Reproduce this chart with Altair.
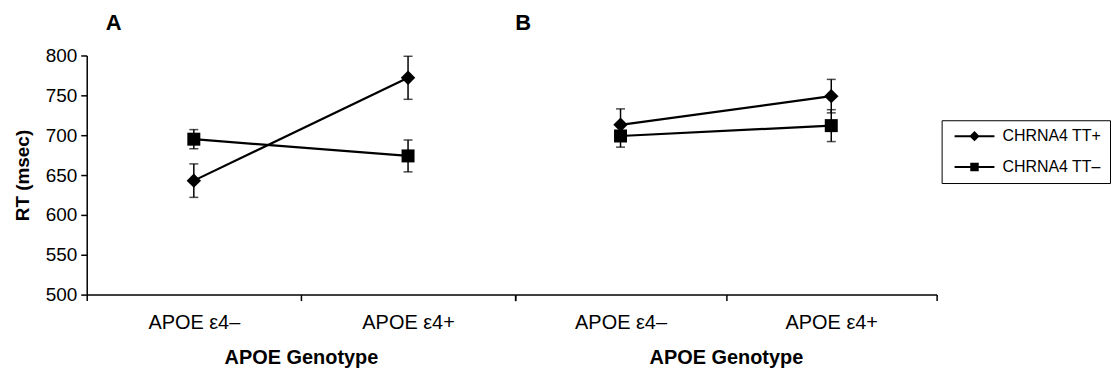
import altair as alt
import pandas as pd

# ---- data ----
genotypes = ["APOE ε4–", "APOE ε4+"]
series_names = ["CHRNA4 TT+", "CHRNA4 TT–"]

tt_plus_A = [643, 772]
tt_plus_A_err = [21, 27]
tt_minus_A = [695, 674]
tt_minus_A_err = [12, 20]

tt_plus_B = [713, 749]
tt_plus_B_err = [20, 21]
tt_minus_B = [699, 712]
tt_minus_B_err = [14, 20]

y_ticks = [500, 550, 600, 650, 700, 750, 800]

FONT = "Liberation Sans"


def make_df(plus, plus_err, minus, minus_err):
    rows = []
    for name, vals, errs in [(series_names[0], plus, plus_err), (series_names[1], minus, minus_err)]:
        for g, v, e in zip(genotypes, vals, errs):
            rows.append({"genotype": g, "series": name, "rt": v, "lo": v - e, "hi": v + e})
    return pd.DataFrame(rows)


dfA = make_df(tt_plus_A, tt_plus_A_err, tt_minus_A, tt_minus_A_err)
dfB = make_df(tt_plus_B, tt_plus_B_err, tt_minus_B, tt_minus_B_err)

xaxis = alt.Axis(title="APOE Genotype", labelAngle=0, tickBand="extent", tickSize=6,
                 labelPadding=12, titlePadding=15, domainColor="black", tickColor="black",
                 domainWidth=1.5, tickWidth=1.5, labelFontSize=20, titleFontSize=20,
                 titleFontWeight="bold", labelColor="black", titleColor="black",
                 labelFont=FONT, titleFont=FONT)

yaxis = alt.Axis(title="RT (msec)", values=y_ticks, tickSize=6, labelPadding=4,
                 titlePadding=13, domainColor="black", tickColor="black", domainWidth=1.5,
                 tickWidth=1.5, labelFontSize=19, titleFontSize=19, titleFontWeight="bold",
                 labelColor="black", titleColor="black", grid=False, labelFont=FONT, titleFont=FONT)

legend_paths = [
    "M-4,0L4,0M-0.75,0L0,-0.75L0.75,0L0,0.75Z",
    "M-4,0L4,0M-0.65,-0.65L0.65,-0.65L0.65,0.65L-0.65,0.65Z",
]


def panel(df, title, title_dx, title_offset, show_y, width, with_legend):
    base = alt.Chart(df)

    def X():
        return alt.X("genotype:N", scale=alt.Scale(domain=genotypes, paddingInner=0, paddingOuter=0),
                     axis=xaxis)

    def Y(field):
        return alt.Y(field, type="quantitative", title="RT (msec)",
                     scale=alt.Scale(domain=[500, 800], nice=False, zero=False),
                     axis=yaxis if show_y else None)

    rules = base.mark_rule(color="black", strokeWidth=1.5).encode(
        x=X(), y=Y("lo"), y2="hi:Q")
    caps_hi = base.mark_tick(color="black", size=9, thickness=1.5).encode(x=X(), y=Y("hi"))
    caps_lo = base.mark_tick(color="black", size=9, thickness=1.5).encode(x=X(), y=Y("lo"))
    lines = base.mark_line(color="black", strokeWidth=2.2).encode(
        x=X(), y=Y("rt"), detail="series:N")
    diam = base.transform_filter(alt.datum.series == series_names[0]).mark_point(
        shape="diamond", filled=True, color="black", size=210, opacity=1).encode(x=X(), y=Y("rt"))
    sq = base.transform_filter(alt.datum.series == series_names[1]).mark_point(
        shape="square", filled=True, color="black", size=170, opacity=1).encode(x=X(), y=Y("rt"))

    layers = [rules, caps_hi, caps_lo, lines, diam, sq]
    if with_legend:
        leg = base.mark_point(opacity=0, filled=True, fill="black", stroke="black",
                              strokeWidth=2).encode(
            x=X(), y=Y("rt"),
            shape=alt.Shape("series:N",
                            scale=alt.Scale(domain=series_names, range=legend_paths),
                            legend=alt.Legend(
                                title=None, orient="none", legendX=858, legendY=65,
                                strokeColor="black", fillColor="white", padding=8,
                                cornerRadius=0, symbolSize=100, symbolOffset=17,
                                labelOffset=20, rowPadding=15, labelFontSize=16,
                                labelFont=FONT, labelColor="black",
                                labelLimit=300, symbolStrokeWidth=2,
                                symbolOpacity=1)))
        layers.append(leg)

    return alt.layer(*layers).properties(
        width=width, height=240,
        view=alt.ViewBackground(stroke="transparent", strokeWidth=0),
        title=alt.TitleParams(title, anchor="start", frame="group", dx=title_dx,
                              fontSize=22, fontWeight="bold", font=FONT, color="black",
                              offset=title_offset),
    )


pA = panel(dfA, "A", 19, 12, True, 430, False)
pB = panel(dfB, "B", 0, 21, False, 423, True)

chart = (
    alt.hconcat(pA, pB, spacing=0, bounds="flush")
    .configure_view(stroke="transparent", strokeWidth=0)
    .configure(font=FONT)
    .properties(background="white", padding={"left": 5, "top": 3, "right": 0, "bottom": 0})
)

chart.save("out.html", embed_options={"renderer": "svg", "actions": False})
